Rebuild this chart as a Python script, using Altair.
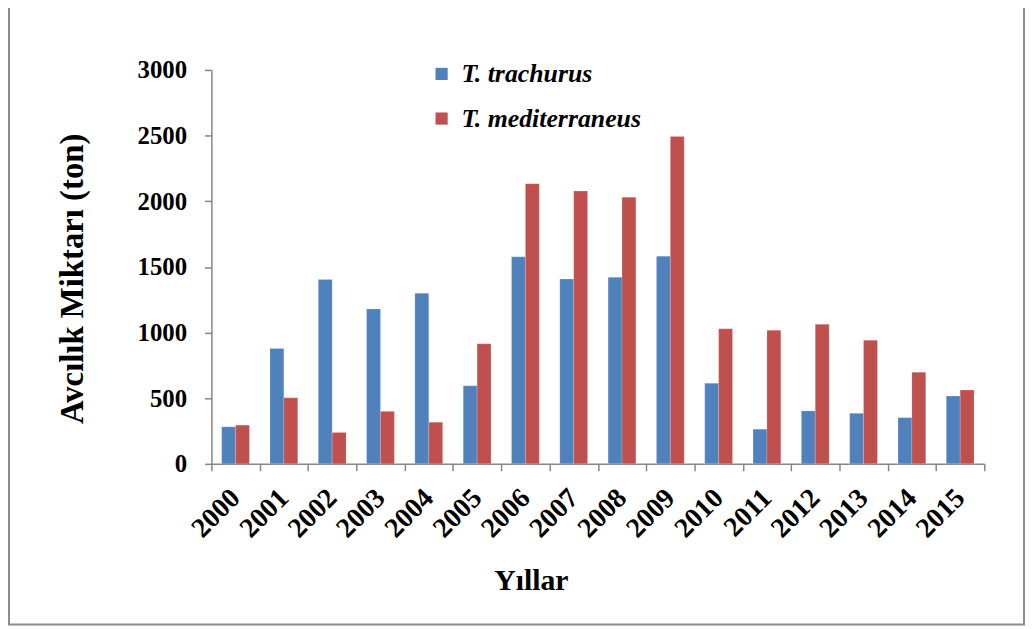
import altair as alt
import pandas as pd

years = [str(y) for y in range(2000, 2016)]
trachurus = [282, 879, 1404, 1180, 1300, 594, 1577, 1408, 1421, 1582, 614, 264, 403, 385, 352, 516]
mediterraneus = [295, 503, 239, 400, 317, 914, 2134, 2078, 2030, 2494, 1028, 1017, 1063, 942, 698, 562]
series_names = ["T. trachurus", "T. mediterraneus"]
series_colors = ["#4F81BD", "#C0504D"]

rows = []
for i, y in enumerate(years):
    rows.append({"Yıl": y, "Tür": series_names[0], "Miktar": trachurus[i]})
    rows.append({"Yıl": y, "Tür": series_names[1], "Miktar": mediterraneus[i]})
df = pd.DataFrame(rows)

FONT = "Liberation Serif"
GRAY = "#868686"

bars = alt.Chart(df).mark_bar(stroke="#ffffff", strokeOpacity=0.35, strokeWidth=0.5).encode(
    x=alt.X("Yıl:N", sort=years,
            scale=alt.Scale(paddingInner=0, paddingOuter=0),
            axis=alt.Axis(title="Yıllar", labelAngle=-45, labelAlign="right",
                          labelBaseline="middle", labelPadding=23, labelFontSize=28,
                          tickBand="extent", titleX=322, titleY=127,
                          titleAlign="center", titleBaseline="alphabetic",
                          titleFontSize=30)),
    xOffset=alt.XOffset("Tür:N", sort=series_names,
                        scale=alt.Scale(paddingInner=0, paddingOuter=0.74)),
    y=alt.Y("Miktar:Q",
            scale=alt.Scale(domain=[0, 3000], nice=False),
            axis=alt.Axis(title="Avcılık Miktarı (ton)", values=[0, 500, 1000, 1500, 2000, 2500, 3000],
                          format="d", grid=False, labelPadding=18, labelFontSize=25,
                          titleX=-140, titleY=210,
                          titleAngle=-90, titleAlign="center", titleBaseline="middle",
                          titleFontSize=33)),
    color=alt.Color("Tür:N", sort=series_names,
                    scale=alt.Scale(domain=series_names, range=series_colors),
                    legend=alt.Legend(title=None, orient="none", legendX=219, legendY=-9,
                                      symbolType="square", symbolSize=150,
                                      symbolStrokeWidth=0, labelOffset=7,
                                      labelFont=FONT, labelFontSize=26, labelLimit=0,
                                      labelFontStyle="italic", labelFontWeight="bold",
                                      labelColor="#000000", rowPadding=19, padding=0)),
)

frame = alt.Chart(alt.Data(values=[{"k": 1}])).mark_rect(
    filled=False, stroke="#8c8c8c", strokeWidth=2
).encode(
    x=alt.value(-204), x2=alt.value(819), y=alt.value(-80), y2=alt.value(559)
)

chart = alt.layer(bars, frame).properties(
    width=779, height=397, autosize="none",
    padding={"left": 205, "top": 60, "right": 42, "bottom": 162},
).configure_view(stroke=None).configure_axis(
    labelFont=FONT, labelFontWeight="bold", labelColor="#000000",
    titleFont=FONT, titleFontWeight="bold", titleColor="#000000",
    domainColor=GRAY, domainWidth=1.5, tickColor=GRAY, tickWidth=1.5, tickSize=7,
).configure_legend(labelFont=FONT)

chart.save("out.html", embed_options={"renderer": "svg", "actions": False})
